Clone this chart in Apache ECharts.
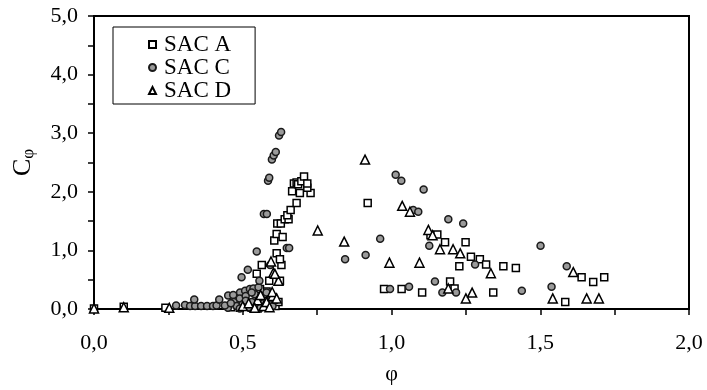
<!DOCTYPE html>
<html>
<head>
<meta charset="utf-8">
<script src="https://cdn.jsdelivr.net/npm/echarts@6/dist/echarts.min.js"></script>
<style>
  html, body { margin: 0; padding: 0; background: #fff; }
  #chart { width: 707px; height: 390px; }
</style>
</head>
<body>
<div id="chart"></div>
<script>
// data, [phi, C_phi]
var sacA = [
  [0, 0.01], [0.10, 0.04], [0.24, 0.02],
  [0.46, 0.03], [0.48, 0.08], [0.49, 0.02], [0.50, 0.12], [0.51, 0.05], [0.52, 0.18],
  [0.53, 0.02], [0.54, 0.10], [0.55, 0.25], [0.56, 0.06], [0.57, 0.15], [0.58, 0.30],
  [0.59, 0.08], [0.60, 0.20], [0.61, 0.05], [0.62, 0.12],
  [0.47, 0.15], [0.50, 0.22], [0.53, 0.20], [0.55, 0.01], [0.57, 0.26], [0.59, 0.02],
  [0.558, 0.34], [0.547, 0.60], [0.564, 0.75], [0.589, 0.48], [0.625, 0.48], [0.630, 0.75],
  [0.614, 0.95], [0.625, 0.85], [0.606, 1.17], [0.614, 1.28], [0.634, 1.23], [0.616, 1.46],
  [0.628, 1.46], [0.641, 1.53], [0.654, 1.53], [0.650, 1.60], [0.661, 1.69], [0.681, 1.81],
  [0.666, 2.01], [0.692, 1.98], [0.728, 1.98], [0.717, 2.07], [0.672, 2.14], [0.681, 2.16],
  [0.686, 2.13], [0.697, 2.18], [0.706, 2.26], [0.717, 2.14],
  [0.920, 1.81], [0.975, 0.34], [1.034, 0.34], [1.103, 0.28], [1.131, 1.26], [1.154, 1.27],
  [1.180, 1.14], [1.249, 1.14], [1.267, 0.89], [1.297, 0.85], [1.318, 0.76], [1.228, 0.73],
  [1.376, 0.73], [1.418, 0.70], [1.197, 0.47], [1.212, 0.35], [1.342, 0.28], [1.584, 0.12],
  [1.639, 0.54], [1.678, 0.46], [1.715, 0.54]
];
var sacC = [
  [0.276, 0.06], [0.306, 0.07], [0.323, 0.05], [0.34, 0.05], [0.337, 0.16], [0.36, 0.05],
  [0.38, 0.05], [0.40, 0.05], [0.412, 0.06], [0.421, 0.16], [0.451, 0.23], [0.468, 0.24],
  [0.491, 0.28], [0.508, 0.31], [0.524, 0.34], [0.536, 0.35],
  [0.45, 0.02], [0.47, 0.12], [0.48, 0.05], [0.49, 0.18], [0.50, 0.08], [0.51, 0.22],
  [0.52, 0.03], [0.53, 0.12], [0.54, 0.25], [0.55, 0.05], [0.56, 0.18], [0.57, 0.10],
  [0.58, 0.28], [0.60, 0.05], [0.61, 0.15],
  [0.44, 0.06], [0.46, 0.10], [0.49, 0.01], [0.51, 0.14], [0.53, 0.28], [0.56, 0.02],
  [0.553, 0.37], [0.556, 0.48], [0.496, 0.54], [0.517, 0.67], [0.592, 0.75], [0.547, 0.98],
  [0.648, 1.04], [0.656, 1.04], [0.571, 1.62], [0.581, 1.62], [0.585, 2.19], [0.589, 2.24],
  [0.598, 2.55], [0.604, 2.62], [0.611, 2.68], [0.622, 2.96], [0.629, 3.02],
  [0.844, 0.85], [0.913, 0.92], [0.962, 1.20], [0.995, 0.34], [1.059, 0.38], [1.014, 2.29],
  [1.033, 2.19], [1.108, 2.04], [1.073, 1.69], [1.090, 1.66], [1.191, 1.53], [1.241, 1.46],
  [1.127, 1.08], [1.146, 0.47], [1.171, 0.28], [1.217, 0.28], [1.281, 0.76], [1.438, 0.31],
  [1.501, 1.08], [1.538, 0.38], [1.589, 0.73]
];
var sacD = [
  [0, 0.01], [0.10, 0.03], [0.253, 0.02],
  [0.50, 0.05], [0.52, 0.10], [0.55, 0.15], [0.57, 0.05], [0.58, 0.12], [0.60, 0.22],
  [0.54, 0.02], [0.56, 0.24], [0.59, 0.03],
  [0.599, 0.29], [0.614, 0.18], [0.603, 0.62], [0.620, 0.48], [0.595, 0.81], [0.608, 0.60],
  [0.752, 1.34], [0.841, 1.15], [0.911, 2.55], [0.993, 0.79], [1.094, 0.79], [1.036, 1.76],
  [1.062, 1.66], [1.124, 1.35], [1.138, 1.26], [1.163, 1.02], [1.207, 1.02], [1.231, 0.95],
  [1.334, 0.61], [1.191, 0.35], [1.250, 0.18], [1.271, 0.28], [1.542, 0.18], [1.611, 0.63],
  [1.656, 0.18], [1.697, 0.18]
];

var font = '"Liberation Serif", "Times New Roman", serif';

function comma(v) {
  return v.toFixed(1).replace('.', ',');
}

var chart = echarts.init(document.getElementById('chart'));
var option = {
  animation: false,
  backgroundColor: '#fff',
  textStyle: { fontFamily: font, color: '#000' },
  grid: {
    left: 94, right: 18, top: 16, bottom: 80,
    show: true, borderColor: '#000', borderWidth: 2
  },
  legend: {
    orient: 'vertical',
    left: 113, top: 27,
    padding: [6, 24, 2, 35],
    itemGap: 0,
    itemWidth: 7, itemHeight: 7,
    borderColor: '#000', borderWidth: 1,
    backgroundColor: '#fff',
    textStyle: { fontFamily: font, fontSize: 23, color: '#000', lineHeight: 23, padding: [0, 0, 0, 3] },
    data: ['SAC A', 'SAC C', 'SAC D']
  },
  xAxis: {
    type: 'value',
    min: 0, max: 2, interval: 0.25,
    name: 'φ',
    nameLocation: 'middle',
    nameGap: 54,
    nameTextStyle: { fontFamily: font, fontSize: 22, color: '#000' },
    axisLine: { show: true, lineStyle: { color: '#000', width: 2 } },
    axisTick: { show: true, inside: false, length: 6, lineStyle: { color: '#000', width: 1.5 } },
    splitLine: { show: false },
    axisLabel: {
      margin: 23, fontFamily: font, fontSize: 22, color: '#000',
      formatter: function (v) {
        return Math.abs(v * 2 - Math.round(v * 2)) < 1e-9 ? comma(v) : '';
      }
    }
  },
  yAxis: {
    type: 'value',
    min: 0, max: 5, interval: 0.5,
    name: '{c|C}{s|φ}',
    nameLocation: 'middle',
    nameRotate: 90,
    nameGap: 57,
    nameTextStyle: {
      fontFamily: font, color: '#000',
      rich: {
        c: { fontFamily: font, fontSize: 26, color: '#000' },
        s: { fontFamily: font, fontSize: 17, color: '#000', padding: [10, 0, 0, 0] }
      }
    },
    axisLine: { show: true, lineStyle: { color: '#000', width: 2 } },
    axisTick: { show: true, inside: false, length: 6, lineStyle: { color: '#000', width: 1.5 } },
    splitLine: { show: false },
    axisLabel: {
      margin: 16, fontFamily: font, fontSize: 22, color: '#000',
      formatter: function (v) {
        return Math.abs(v - Math.round(v)) < 1e-9 ? comma(v) : '';
      }
    }
  },
  series: [
    {
      name: 'SAC A', type: 'scatter', symbol: 'rect', symbolSize: 7,
      itemStyle: { color: '#fff', borderColor: '#000', borderWidth: 1.5, opacity: 1 },
      data: sacA
    },
    {
      name: 'SAC C', type: 'scatter', symbol: 'circle', symbolSize: 7,
      itemStyle: { color: '#9a9a9a', borderColor: '#1a1a1a', borderWidth: 1.5, opacity: 1 },
      data: sacC
    },
    {
      name: 'SAC D', type: 'scatter', symbol: 'triangle', symbolSize: 9,
      itemStyle: { color: '#fff', borderColor: '#000', borderWidth: 1.5, opacity: 1 },
      data: sacD
    }
  ]
};
chart.setOption(option);
</script>
</body>
</html>
